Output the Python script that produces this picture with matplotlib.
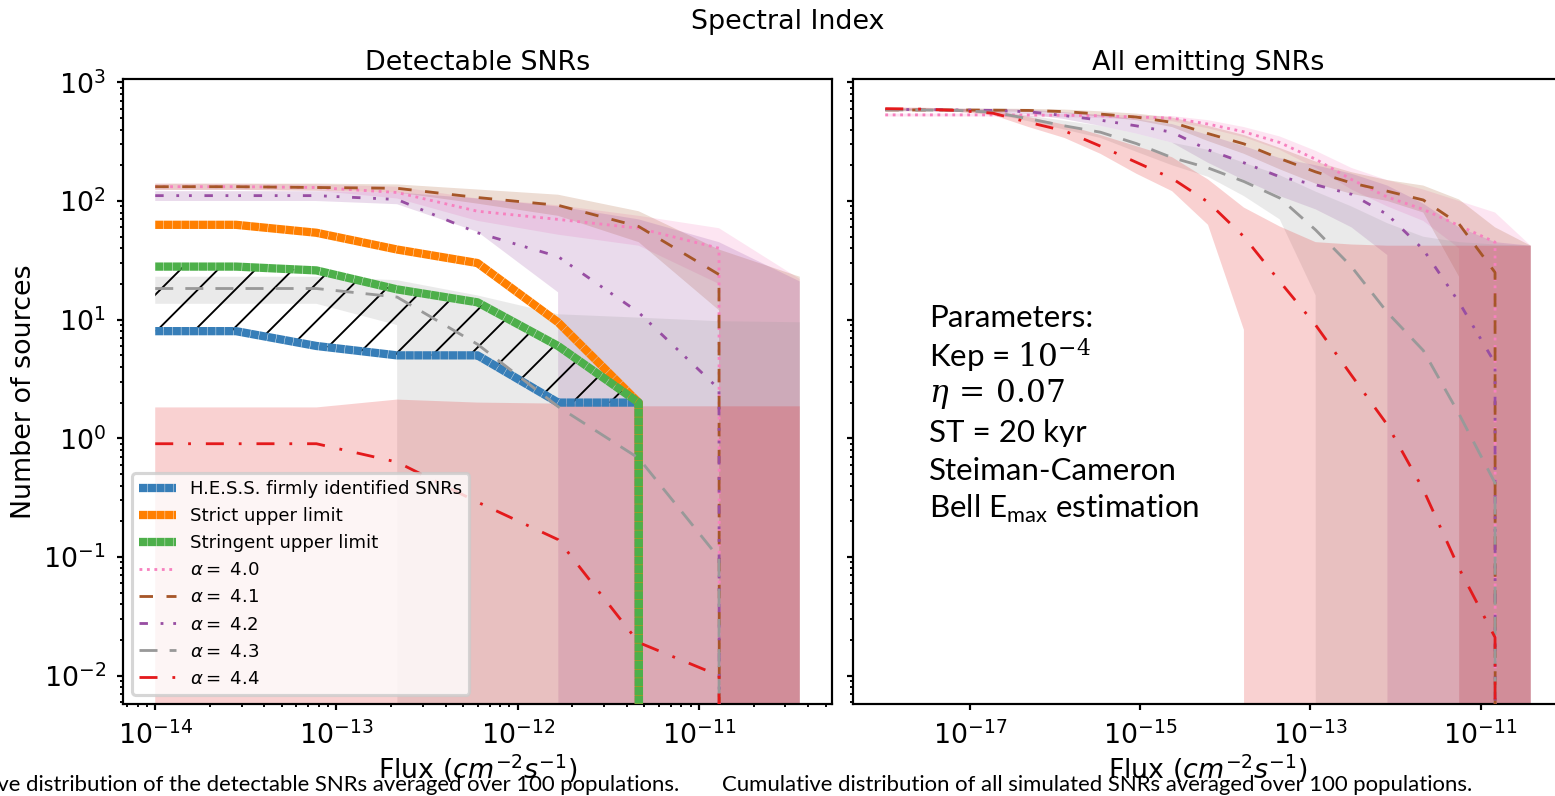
import matplotlib.pyplot as plt
from matplotlib.ticker import LogLocator, NullLocator

W, H, DPI = 1555, 796, 225

plt.rcParams['font.size'] = 8.6
plt.rcParams['axes.linewidth'] = 0.7
plt.rcParams['hatch.linewidth'] = 0.6
for a in ('xtick', 'ytick'):
    plt.rcParams[a + '.major.size'] = 2.0
    plt.rcParams[a + '.minor.size'] = 1.1
    plt.rcParams[a + '.major.width'] = 0.7
    plt.rcParams[a + '.minor.width'] = 0.6

# ---- detectable SNRs (flux bins in cm^-2 s^-1) ----
flux_det = [1.0e-14, 2.79e-14, 7.75e-14, 2.16e-13, 6.0e-13, 1.67e-12, 4.65e-12, 1.29e-11, 3.6e-11]

hess = [8, 8, 6, 5, 5, 2, 2, 0]
strict = [63, 63, 54, 39, 30, 9.5, 2, 0]
stringent = [28, 28, 26, 18, 14, 6, 2, 0]

det_mean = {
    '4.0': [132, 132, 130, 118, 82, 70, 59, 40, 0],
    '4.1': [132, 132, 130, 128, 107, 92, 61, 24, 0],
    '4.2': [111, 111, 111, 103, 54, 34, 11.5, 2.6, 0],
    '4.3': [18.3, 18.3, 18.3, 15.5, 6.2, 1.85, 0.68, 0.098, 0],
    '4.4': [0.9, 0.9, 0.9, 0.63, 0.29, 0.14, 0.019, 0.010, 0],
}
det_low = {
    '4.0': [124, 124, 122, 105, 68, 52, 42, 20, 0],
    '4.1': [124, 124, 122, 118, 95, 75, 45, 12, 0],
    '4.2': [100, 100, 100, 94, 55, 17, 0, 0, 0],
    '4.3': [13.6, 13.6, 13.6, 9.0, 0, 0, 0, 0, 0],
    '4.4': [0, 0, 0, 0, 0, 0, 0, 0, 0],
}
det_high = {
    '4.0': [140, 140, 138, 132, 105, 92, 75, 59, 22],
    '4.1': [140, 140, 140, 138, 125, 113, 82, 39, 23],
    '4.2': [121, 121, 121, 118, 105, 90, 70, 45, 21],
    '4.3': [23, 23, 23, 21.5, 16, 11.1, 10.4, 9.7, 9.5],
    '4.4': [1.82, 1.82, 1.82, 2.12, 2.0, 1.96, 1.86, 1.86, 1.86],
}

# ---- all emitting SNRs ----
flux_all = [1.0e-18, 2.64e-18, 6.97e-18, 1.84e-17, 4.86e-17, 1.28e-16, 3.39e-16,
            8.95e-16, 2.36e-15, 6.24e-15, 1.65e-14, 4.35e-14, 1.15e-13, 3.03e-13,
            8.01e-13, 2.12e-12, 5.59e-12, 1.48e-11, 3.89e-11]

all_mean = {
    '4.0': [532, 532, 532, 532, 530, 528, 523, 510, 500, 445, 383, 311, 225, 152, 108, 85, 62, 45, 0],
    '4.1': [586, 585, 585, 583, 580, 567, 540, 510, 460, 370, 303, 228, 176, 142, 121, 102, 64, 25, 0],
    '4.2': [590, 590, 585, 580, 565, 525, 480, 430, 380, 270, 210, 160, 137, 114, 77, 39, 14, 4.3, 0],
    '4.3': [586, 585, 580, 560, 494, 430, 380, 305, 232, 190, 146, 106, 57, 28, 11.5, 5.5, 1.6, 0.42, 0],
    '4.4': [600, 595, 580, 550, 460, 390, 290, 212, 155, 98, 50, 21, 9, 3.4, 1.3, 0.37, 0.08, 0.021, 0],
}
all_low = {
    '4.0': [515, 515, 515, 515, 512, 508, 500, 485, 470, 410, 345, 270, 190, 125, 90, 68, 40, 0, 0],
    '4.1': [570, 570, 570, 568, 565, 550, 515, 480, 420, 320, 250, 185, 140, 115, 100, 80, 23, 0, 0],
    '4.2': [575, 575, 570, 560, 540, 490, 430, 370, 310, 210, 150, 110, 85, 60, 35, 0, 0, 0, 0],
    '4.3': [575, 572, 565, 540, 470, 400, 340, 260, 200, 160, 110, 70, 16, 0, 0, 0, 0, 0, 0],
    '4.4': [590, 585, 565, 530, 420, 340, 250, 170, 121, 63, 8.2, 0, 0, 0, 0, 0, 0, 0, 0],
}
all_high = {
    '4.0': [545, 545, 545, 545, 545, 540, 535, 525, 520, 480, 420, 350, 265, 190, 150, 125, 100, 80, 42],
    '4.1': [600, 600, 600, 600, 598, 590, 570, 545, 505, 430, 360, 280, 215, 175, 150, 135, 103, 60, 42],
    '4.2': [605, 605, 600, 598, 590, 560, 530, 490, 445, 360, 290, 230, 200, 170, 135, 95, 60, 45, 42],
    '4.3': [600, 600, 597, 585, 525, 475, 430, 370, 310, 270, 210, 165, 120, 90, 65, 50, 45, 43, 42],
    '4.4': [615, 612, 600, 580, 510, 440, 360, 290, 234, 152, 88, 61, 45, 43, 42, 42, 42, 42, 42],
}

alphas = ['4.0', '4.1', '4.2', '4.3', '4.4']
colors = {'4.0': '#f781bf', '4.1': '#a65628', '4.2': '#984ea3',
          '4.3': '#999999', '4.4': '#e41a1c'}
styles = {'4.0': (0, (1, 1.65)), '4.1': (0, (4.8, 4.8)),
          '4.2': (0, (3, 4.5, 1, 3.5, 1, 4.5)), '4.3': (0, (6.4, 4.3)),
          '4.4': (0, (6.4, 5.3, 1, 5.3))}

fig = plt.figure(figsize=(W / DPI, H / DPI), dpi=DPI)
ax1 = fig.add_axes([123 / W, 92 / H, 709 / W, 625 / H])
ax2 = fig.add_axes([853 / W, 92 / H, 710 / W, 625 / H], sharey=ax1)

for ax in (ax1, ax2):
    ax.set_xscale('log')
    ax.set_yscale('log')

# observed H.E.S.S. counts and upper limits
thick = dict(lw=2.65, ls=(0, (1.0, 0.05)), zorder=3)
ax1.fill_between(flux_det[:7], hess[:7], stringent[:7], facecolor='none',
                 edgecolor='black', hatch='//', linewidth=0, zorder=2.5)
ax1.plot(flux_det[:8], hess, color='#377eb8', label='H.E.S.S. firmly identified SNRs', **thick)
ax1.plot(flux_det[:8], strict, color='#ff7f00', label='Strict upper limit', **thick)
ax1.plot(flux_det[:8], stringent, color='#4daf4a', label='Stringent upper limit', **thick)

# simulated populations for each spectral index
for a in alphas:
    c = colors[a]
    ax1.fill_between(flux_det, det_low[a], det_high[a], color=c, alpha=0.2, lw=0, zorder=1)
    ax1.plot(flux_det, det_mean[a], color=c, ls=styles[a], lw=0.9, zorder=4,
             label=r'$\alpha=$ ' + a)
    ax2.fill_between(flux_all, all_low[a], all_high[a], color=c, alpha=0.2, lw=0, zorder=1)
    ax2.plot(flux_all, all_mean[a], color=c, ls=styles[a], lw=0.9, zorder=4)

ax1.legend(loc='lower left', fontsize=5.8)

ax1.set_title('Detectable SNRs', fontsize=8.6, pad=3.0)
ax2.set_title('All emitting SNRs', fontsize=8.6, pad=3.0)
ax1.set_ylabel('Number of sources', labelpad=2)
ax1.set_xlabel(r'Flux ($cm^{-2}s^{-1}$)', labelpad=1)
ax2.set_xlabel(r'Flux ($cm^{-2}s^{-1}$)', labelpad=1)
ax2.tick_params(labelleft=False)
ax2.xaxis.set_major_locator(LogLocator(base=10, numticks=5))
ax2.xaxis.set_minor_locator(NullLocator())

fig.text(787.5 / W, 1 - 22 / H, 'Spectral Index', ha='center', va='center')

# simulation parameters
params = ['Parameters:', 'Kep = $10^{-4}$', r'$\eta\,=\,0.07$', 'ST = 20 kyr',
          'Steiman-Cameron', r'Bell E$_{\mathregular{max}}$ estimation']
for i, line in enumerate(params):
    ax2.text(0.107, 0.6176 - 0.0611 * i, line, transform=ax2.transAxes,
             ha='left', va='center', fontsize=10, family='Lato',
             math_fontfamily='dejavuserif')

fig.text(679 / W, 1 - 785 / H,
         'Cumulative distribution of the detectable SNRs averaged over 100 populations.',
         ha='right', va='center', fontsize=7.1, family='Lato')
fig.text(722 / W, 1 - 785 / H,
         'Cumulative distribution of all simulated SNRs averaged over 100 populations.',
         ha='left', va='center', fontsize=7.1, family='Lato')

fig.savefig('out.png', dpi=DPI)
